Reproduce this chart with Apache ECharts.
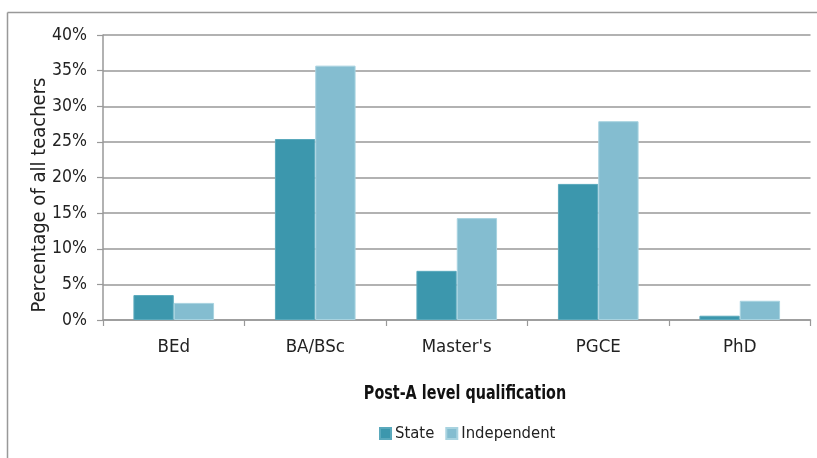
<!DOCTYPE html>
<html><head><meta charset="utf-8">
<script src="https://cdn.jsdelivr.net/npm/echarts@6/dist/echarts.min.js"></script>
<style>html,body{margin:0;padding:0;background:#fff}#c{width:817px;height:458px}</style>
</head><body><div id="c"></div>
<script>
const categories = ["BEd", "BA/BSc", "Master's", "PGCE", "PhD"];
const stateValues = [3.5, 25.4, 6.9, 19.1, 0.6];
const independentValues = [2.4, 35.7, 14.3, 27.9, 2.7];
const yTicks = [0, 5, 10, 15, 20, 25, 30, 35, 40];

const FONT = "'DejaVu Sans Condensed','Liberation Sans Narrow','Roboto',sans-serif";
const chart = echarts.init(document.getElementById('c'));
chart.setOption({
  animation: false,
  textStyle: {fontFamily: FONT},
  grid: {left: 103, right: 6.5, top: 35, bottom: 138},
  legend: {
    data: ['State', 'Independent'],
    left: 374, top: 420,
    itemWidth: 11, itemHeight: 11, itemGap: 11,
    icon: 'rect',
    textStyle: {fontFamily: FONT, fontSize: 16.5, color: '#222', padding: [0,0,0,-1]}
  },
  xAxis: {
    type: 'category', data: categories,
    axisLine: {lineStyle: {color: '#999', width: 1.5}},
    axisTick: {show: true, length: 6, lineStyle: {color: '#999', width: 1.2}},
    axisLabel: {fontFamily: FONT, fontSize: 18.5, color: '#222', margin: 18}
  },
  yAxis: {
    type: 'value', min: yTicks[0], max: yTicks[yTicks.length-1], interval: 5,
    axisLine: {show: true, lineStyle: {color: '#999', width: 1.5}},
    axisTick: {show: true, length: 6, lineStyle: {color: '#999', width: 1.2}},
    axisLabel: {fontFamily: FONT, fontSize: 17.5, color: '#222', margin: 16, formatter: '{value}%'},
    splitLine: {lineStyle: {color: '#999', width: 1.5}}
  },
  graphic: [
    {type: 'line', shape: {x1: 7.5, y1: 12.5, x2: 817, y2: 12.5}, style: {stroke: '#999', lineWidth: 1.5}},
    {type: 'line', shape: {x1: 7.5, y1: 12.5, x2: 7.5, y2: 458}, style: {stroke: '#999', lineWidth: 1.5}},
    {type: 'text', x: 40, y: 195, rotation: Math.PI/2,
     style: {text: 'Percentage of all teachers', font: "20px " + FONT, fill: '#222',
       textAlign: 'center', textVerticalAlign: 'middle'}},
    {type: 'text', x: 465, y: 394, scaleX: 0.84,
     style: {text: 'Post-A level qualification', font: "bold 19px " + FONT, fill: '#111',
       textAlign: 'center', textVerticalAlign: 'middle'}}
  ],
  series: [
    {name: 'State', type: 'bar', data: stateValues, barGap: '0%', barCategoryGap: '43%',
     itemStyle: {color: '#3c97ad', borderColor: '#5aa9bc', borderWidth: 1}},
    {name: 'Independent', type: 'bar', data: independentValues,
     itemStyle: {color: '#84bdd0', borderColor: '#a8d3e0', borderWidth: 1}}
  ]
});
</script></body></html>
